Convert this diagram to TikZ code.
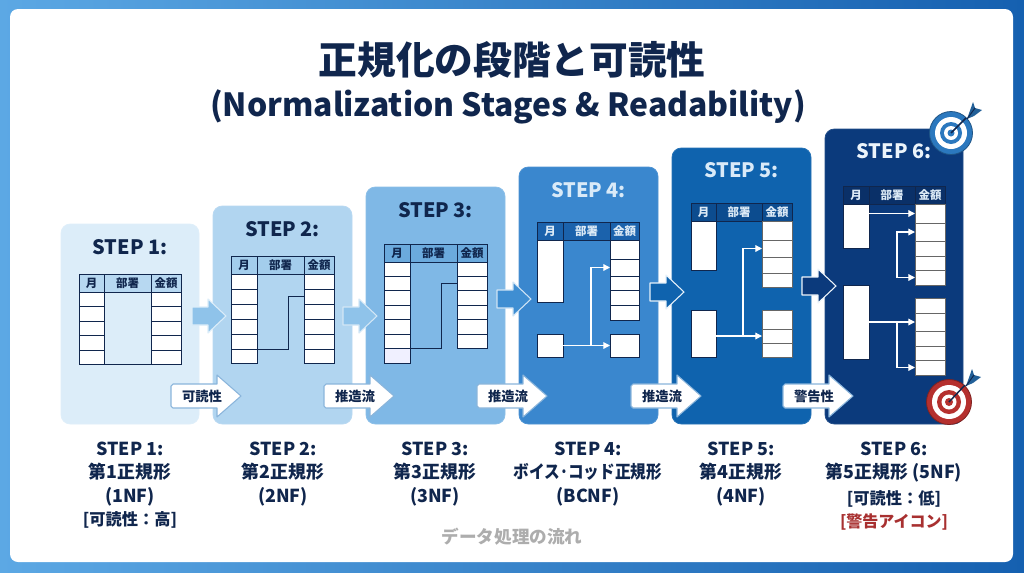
\documentclass[tikz,border=0pt]{standalone}
\usepackage{fontspec}
\setmainfont{Noto Sans CJK JP}
\usetikzlibrary{arrows.meta}

\definecolor{navy}{HTML}{10264D}
\definecolor{alert}{HTML}{A83030}
\definecolor{ringblue}{HTML}{2B78BE}
\definecolor{ringred}{HTML}{B5302E}

\tikzset{
    panel/.style={rounded corners=7pt, inner sep=0pt, outer sep=0pt},
    cell/.style={draw=navy, fill=white, line width=0.7pt, inner sep=0pt, outer sep=0pt},
    headcell/.style={draw=navy, line width=0.7pt, inner sep=0pt, outer sep=0pt, font=\bfseries\fontsize{8.6}{10}\selectfont},
    steptext/.style={font=\bfseries\fontsize{14.9}{18}\selectfont},
    caption/.style={font=\bfseries\fontsize{13.4}{17.6}\selectfont, align=center, anchor=north, text=navy, inner sep=0pt},
    link/.style={line width=0.7pt, draw=navy},
    flow/.style={line width=0.9pt, draw=white, -{Triangle[length=5pt,width=5pt]}},
}

% column of rows, first top edge in #5
\newcommand{\rowcol}[6][]{
    \foreach \y [remember=\y as \yp (initially #5), count=\i] in {#6}
        \node[cell,#1,minimum width={(#4-#3)*0.75pt},minimum height={(\y-\yp)*0.75pt}] (#2-\i) at ({(#3+#4)/2},{(\y+\yp)/2}) {};
}
% single block
\newcommand{\block}[5]{
    \node[cell,minimum width={(#4-#2)*0.75pt},minimum height={(#5-#3)*0.75pt}] (#1) at ({(#2+#4)/2},{(#3+#5)/2}) {};
}

\begin{document}
\begin{tikzpicture}[x=0.75pt,y=-0.75pt]
    \useasboundingbox (0,0) rectangle (1024,572);
    \shade[left color={rgb,255:red,92;green,168;blue,228}, right color={rgb,255:red,21;green,96;blue,176}] (0,0) rectangle (1024,572);
    \fill[white, rounded corners=6pt] (10,9) rectangle (1013,562);

    \node[font=\bfseries\fontsize{29}{34}\selectfont, text=navy, inner sep=0pt] (title) at (512,60) {正規化の段階と可読性};
    \node[font=\bfseries\fontsize{23.9}{30}\selectfont, text=navy, inner sep=0pt] (subtitle) at (508,107) {(Normalization Stages \& Readability)};

    % panels
    \foreach \n/\xa/\xb/\ya/\col/\txt/\sy in {
        1/61/199/224/DCEDF9/navy/247,
        2/213/352/206/B1D5F0/navy/229,
        3/366/505/187/7FB8E6/navy/210,
        4/519/658/167/3A87CE/D9EAF8/190,
        5/672/811/148/0F63AE/D9EAF8/170,
        6/825/963/129/0B3A7C/ECF4FB/151}{
        \definecolor{pcol}{HTML}{\col}
        \node[panel,fill=pcol,draw=pcol!90!white,line width=0.6pt,minimum width={(\xb-\xa)*0.75pt},minimum height={(424-\ya)*0.75pt}] (p\n) at ({(\xa+\xb)/2},{(424+\ya)/2}) {};
        \ifnum\n<4 \colorlet{tcol}{navy}\else\definecolor{tcol}{HTML}{\txt}\fi
        \node[steptext,text=tcol,inner sep=0pt] (s\n) at ({(\xa+\xb)/2},\sy) {STEP \n:};
    }

    % table heads
    \foreach \n/\a/\b/\c/\d/\t/\col in {
        1/79/104/151/181/274/B7D8F1,
        2/231/257/304/334/256/A3CDEC,
        3/384/410/457/487/244/6BAADD,
        4/537/563/610/639/222/1B62AC,
        5/691/716/762/792/203/0C4C8F,
        6/843/869/915/945/186/0A3068}{
        \definecolor{hcol}{HTML}{\col}
        \ifnum\n<4 \colorlet{tcol}{navy}\else\definecolor{tcol}{HTML}{DCEAF6}\fi
        \node[headcell,fill=hcol,text=tcol,minimum width={(\b-\a)*0.75pt},minimum height=13.5pt] (ha\n) at ({(\a+\b)/2},{\t+9}) {月};
        \node[headcell,fill=hcol,text=tcol,minimum width={(\c-\b)*0.75pt},minimum height=13.5pt] (hb\n) at ({(\b+\c)/2},{\t+9}) {部署};
        \node[headcell,fill=hcol,text=tcol,minimum width={(\d-\c)*0.75pt},minimum height=13.5pt] (hc\n) at ({(\c+\d)/2},{\t+9}) {金額};
    }

    % step 1
    \rowcol{l1}{79}{104}{292}{306,321,335,350,364}
    \rowcol{r1}{151}{181}{292}{306,321,335,350,364}
    \draw[link] (l1-5.south east) -- (r1-5.south west);

    % step 2
    \rowcol{l2}{231}{257}{274}{289,304,319,334,349,363}
    \rowcol{r2}{304}{334}{274}{289,304,319,334,349,363}
    \draw[link] (l2-6.north east) -- ++(31,0) |- (r2-2.west);

    % step 3
    \rowcol{l3}{384}{410}{262}{276,290,305,319,334,348}
    \node[cell,fill=white!85!blue!40,minimum width=19.5pt,minimum height=11.25pt] (l3x) at (397,355.5) {};
    \rowcol{r3}{457}{487}{262}{276,290,305,319,334,348}
    \draw[link] (l3-6.south east) -- ++(31,0) |- (r3-2.west);

    % step 4
    \block{l4a}{537}{240}{563}{302}
    \block{l4b}{537}{334}{563}{357}
    \rowcol{r4}{610}{639}{240}{259,276,290,305,320}
    \block{r4b}{610}{334}{639}{357}
    \coordinate (b4) at (591,346);
    \draw[flow] (l4b.east) -- (r4b.west);
    \draw[flow] (b4) |- (r4-2.west);

    % step 5
    \block{l5a}{691}{221}{716}{270}
    \block{l5b}{691}{310}{716}{357}
    \rowcol[draw=black!60]{r5a}{762}{792}{221}{240,257,273,287}
    \rowcol[draw=black!60]{r5b}{762}{792}{310}{329,343,357}
    \coordinate (b5) at (743,336);
    \draw[flow] (l5b.east |- r5b-2.west) -- (r5b-2.west);
    \draw[flow] (b5) |- (r5a-2.west);

    % step 6
    \block{l6a}{843}{204}{869}{248}
    \block{l6b}{843}{285}{869}{359}
    \rowcol[draw=black!60]{r6a}{915}{945}{204}{223,241,256,270,285}
    \rowcol[draw=black!60]{r6b}{915}{945}{298}{313,331,346,360,375}
    \coordinate (b6a) at (897,255);
    \coordinate (b6b) at (897,322);
    \draw[flow] (l6a.east |- r6a-1.west) -- (r6a-1.west);
    \draw[flow,{Triangle[length=5pt,width=5pt]}-{Triangle[length=5pt,width=5pt]}] (r6a-2.west) -| (b6a) |- (r6a-5.west);
    \draw[flow] (l6b.east |- r6b-2.west) -- (r6b-2.west);
    \draw[flow] (b6b) |- (r6b-5.west);

    % arrows between panels
    \foreach \x/\y/\col/\edge in {
        192/316/8FC3EA/DCEDF9,
        343/316/8FC3EA/D3E7F6,
        497/299/3F8ED2/CFE4F5,
        650/292/0F63AE/E6F1FA,
        802/286/0B3A7C/EEF5FB}{
        \definecolor{acol}{HTML}{\col}
        \definecolor{ecol}{HTML}{\edge}
        \draw[fill=acol,draw=ecol,line width=0.8pt,line join=round,shift={(\x,\y)}]
            (0,-9) -- (16,-9) -- (16,-17) -- (34,0) -- (16,17) -- (16,9) -- (0,9) -- cycle;
    }

    % white label arrows
    \foreach \n/\x/\lab in {1/171/可読性,2/324/推造流,3/477/推造流,4/631/推造流,5/783/警告性}{
        \draw[fill=white,draw=ringblue!55!white,line width=0.8pt,line join=round,shift={(\x,396)}]
            (2,-12) -- (46,-12) -- (46,-21) -- (70,0) -- (46,21) -- (46,12) -- (2,12) -- (0,10) -- (0,-10) -- cycle;
        \node[font=\bfseries\fontsize{10}{11}\selectfont,text=navy,inner sep=0pt] (fl\n) at ({\x+31},396) {\lab};
    }

    % targets
    \foreach \r/\c in {21.5/ringblue,16/white,11/ringblue,7/white,3.5/ringblue}
        \fill[\c] (951,133) circle[radius=\r];
    \draw[ringblue!70!black,line width=0.6pt] (951,133) circle[radius=21.5];
    \foreach \r/\c in {22.5/ringred,17/white,12/ringred,7.5/white,4/ringred}
        \fill[\c] (949,402) circle[radius=\r];
    \draw[ringred!70!black,line width=0.6pt] (949,402) circle[radius=22.5];
    \foreach \cx/\cy/\ex/\ey in {951/133/966/118,949/402/965/385}{
        \draw[navy,line width=1.1pt] (\cx,\cy) -- (\ex,\ey);
        \fill[ringblue!80!black,shift={(\ex,\ey)}] (1,1) -- (7,-16) -- (9,-10) -- (16,-8) -- (8,-2) -- cycle;
        \draw[navy,line width=0.7pt,shift={(\ex,\ey)}] (1,1) -- (9,-10);
    }

    % captions
    \node[caption] (c1) at (130,441.5) {STEP 1:\\第1正規形\\(1NF)\\{\fontsize{12.2}{17.6}\selectfont [可読性：高]}};
    \node[caption] (c2) at (283,441.5) {STEP 2:\\第2正規形\\(2NF)};
    \node[caption] (c3) at (435,441.5) {STEP 3:\\第3正規形\\(3NF)};
    \node[caption] (c4) at (588,441.5) {STEP 4:\\\scalebox{0.875}[1]{ボイス･コッド正規形}\\(BCNF)};
    \node[caption] (c5) at (741,441.5) {STEP 5:\\第4正規形\\(4NF)};
    \node[caption] (c6) at (894,441.5) {STEP 6:\\第5正規形 (5NF)\\[1.7pt]{\fontsize{12.2}{17.6}\selectfont [可読性：低]}\\{\fontsize{12}{17.6}\selectfont\textcolor{alert}{[警告アイコン]}}};
    \node[font=\bfseries\fontsize{13.2}{16}\selectfont,text=black!32,inner sep=0pt] (flowname) at (512,537) {データ処理の流れ};
\end{tikzpicture}
\end{document}
